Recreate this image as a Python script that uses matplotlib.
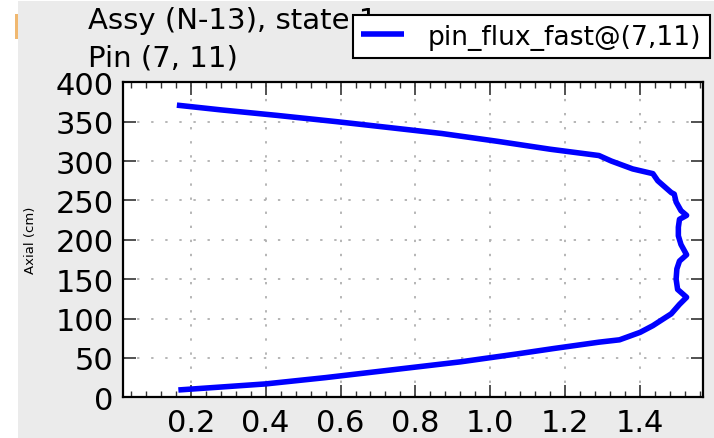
import numpy as np
import matplotlib.pyplot as plt
from matplotlib.patches import Rectangle
from matplotlib.ticker import AutoMinorLocator

OUTFILE = "out.png"

# fast flux along the pin, sampled bottom to top
axial_cm = [9.3, 17, 25, 35, 45, 55, 62, 70, 73, 82.5, 91, 99, 106, 118, 127,
            137, 150, 163, 173, 181, 194, 205, 216, 226, 231, 237, 248, 258,
            260, 275, 284, 290, 300, 307, 315, 325, 335, 342, 350, 358, 365, 371]
flux_fast = [0.167, 0.40, 0.56, 0.74, 0.92, 1.07, 1.17, 1.29, 1.345, 1.40,
             1.434, 1.46, 1.483, 1.505, 1.524, 1.50, 1.496, 1.498, 1.505,
             1.524, 1.509, 1.502, 1.502, 1.505, 1.524, 1.509, 1.496, 1.491,
             1.483, 1.447, 1.434, 1.38, 1.323, 1.29, 1.16, 1.02, 0.87, 0.74,
             0.59, 0.43, 0.28, 0.163]

series_label = "pin_flux_fast@(7,11)"
title_lines = ["Assy (N-13), state 1", "Pin (7, 11)"]
ylabel_text = "Axial (cm)"
x_ticks = [0.2, 0.4, 0.6, 0.8, 1.0, 1.2, 1.4]
y_ticks = [0, 50, 100, 150, 200, 250, 300, 350, 400]

plt.rcParams["font.family"] = "DejaVu Sans"

W, H = 714, 439
fig = plt.figure(figsize=(W / 100, H / 100), dpi=100, facecolor="white")

# grey canvas, with a thin white strip on the left
fig.patches.append(Rectangle((18 / W, 0), 1 - 18 / W, 1 - 2 / H,
                             transform=fig.transFigure, facecolor="#ebebeb",
                             edgecolor="none", zorder=-10))
fig.patches.append(Rectangle((15 / W, 1 - 40 / H), 2.5 / W, 25 / H,
                             transform=fig.transFigure, facecolor="#f0b870",
                             edgecolor="none", zorder=-9))

ax = fig.add_axes([123.3 / W, 1 - 398.3 / H, 579.4 / W, 315 / H])
ax.set_facecolor("white")

ax.plot(flux_fast, axial_cm, color="blue", lw=4.0, label=series_label,
        solid_joinstyle="round", solid_capstyle="butt")

ax.set_xlim(0.02, 1.567)
ax.set_ylim(0, 400)
ax.set_xticks(x_ticks)
ax.set_yticks(y_ticks)
ax.xaxis.set_minor_locator(AutoMinorLocator(5))

for s in ax.spines.values():
    s.set_linewidth(1.6)
    s.set_color("black")

ax.tick_params(which="both", direction="in", top=True, right=True)
ax.tick_params(which="major", length=9, width=1.2, color="#333333")
ax.tick_params(which="minor", length=4, width=1.0, color="#333333")
ax.tick_params(axis="x", which="major", labelsize=22, pad=8)
ax.tick_params(axis="y", which="major", labelsize=22, pad=7)

ax.grid(True, which="major", color="#b0b0b0", lw=1.3, linestyle=(0, (1.3, 6.5)))

ax.set_ylabel(ylabel_text, fontsize=9.5)
ax.yaxis.set_label_coords(-0.1495, 0.5)

# two title lines placed on their own baselines
ax.text(88 / W, 1 - 29 / H, title_lines[0], transform=fig.transFigure,
        fontsize=21, ha="left", va="baseline", clip_on=False)
ax.text(88 / W, 1 - 66 / H, title_lines[1], transform=fig.transFigure,
        fontsize=21, ha="left", va="baseline", clip_on=False)

leg = ax.legend(loc="upper right", bbox_to_anchor=(710 / W, 1 - 16 / H),
                bbox_transform=fig.transFigure, borderaxespad=0,
                fontsize=19.2, fancybox=False, framealpha=1, handlelength=1.6,
                handletextpad=0.9, borderpad=0.32)
leg.get_frame().set_edgecolor("black")
leg.get_frame().set_linewidth(1.5)

fig.savefig(OUTFILE, dpi=100)
